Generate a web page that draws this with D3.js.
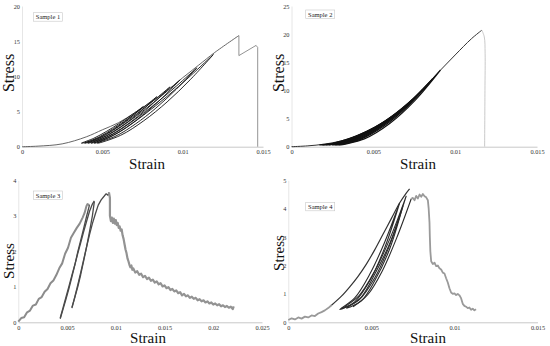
<!DOCTYPE html>
<html>
<head>
<meta charset="utf-8">
<script src="https://cdn.jsdelivr.net/npm/d3@7"></script>
<style>
  body { margin: 0; background: #fff; }
  svg { display: block; }
  text { font-family: "Liberation Serif", "Times New Roman", serif; }
</style>
</head>
<body>
<svg id="chart" width="550" height="346"></svg>
<script>
// ---- tick labels ----
const xTicksA = [0, 0.005, 0.01, 0.015];
const xTicksB = [0, 0.005, 0.01, 0.015, 0.02, 0.025];
const yTicks1 = [0, 5, 10, 15, 20];
const yTicks2 = [0, 5, 10, 15, 20, 25];
const yTicks3 = [0, 1, 2, 3, 4];
const yTicks4 = [0, 1, 2, 3, 4, 5];

// ---- sample 1 : [strain, stress] ----
const s1Envelope = [[0,0],[0.001,0.08],[0.0025,0.4],[0.004,1.4],[0.005,2.4],[0.006,3.4],[0.007,4.8],[0.008,6.3],[0.009,7.9],[0.01,9.8],[0.011,11.6],[0.012,13.4],[0.0135,15.8]];
const s1Drop = [[0.0135,15.8],[0.0135,12.95],[0.01457,14.4],[0.01467,14.1],[0.01467,0]];
const s1Loops = [
  [[0.00755,5.7],[0.00678,4.22],[0.00601,2.92],[0.00524,1.82],[0.00447,0.96],[0.0037,0.5],[0.00447,1.2],[0.00524,2.15],[0.00601,3.25],[0.00678,4.44],[0.00755,5.7]],
  [[0.00839,7.1],[0.0075,5.23],[0.0066,3.57],[0.0057,2.17],[0.0048,1.09],[0.0039,0.5],[0.0048,1.38],[0.0057,2.6],[0.0066,3.98],[0.0075,5.5],[0.00839,7.1]],
  [[0.00921,8.5],[0.00819,6.23],[0.00717,4.22],[0.00614,2.52],[0.00512,1.21],[0.0041,0.5],[0.00512,1.57],[0.00614,3.04],[0.00717,4.72],[0.00819,6.56],[0.00921,8.5]],
  [[0.00984,9.5],[0.00873,6.94],[0.00762,4.69],[0.00652,2.78],[0.00541,1.3],[0.0043,0.5],[0.00541,1.71],[0.00652,3.36],[0.00762,5.25],[0.00873,7.31],[0.00984,9.5]],
  [[0.01088,11.2],[0.0096,8.16],[0.00833,5.48],[0.00705,3.21],[0.00578,1.45],[0.0045,0.5],[0.00578,1.93],[0.00705,3.9],[0.00833,6.15],[0.0096,8.6],[0.01088,11.2]],
  [[0.01191,13.1],[0.01047,9.52],[0.00903,6.36],[0.00758,3.69],[0.00614,1.62],[0.0047,0.5],[0.00614,2.19],[0.00758,4.51],[0.00903,7.15],[0.01047,10.04],[0.01191,13.1]]
];

// ---- sample 2 ----
const s2Envelope = [[0,0],[0.001,0.15],[0.002,0.45],[0.003,1.0],[0.004,1.9],[0.005,3.2],[0.006,5.0],[0.007,7.3],[0.008,10.2],[0.009,13.3],[0.01,16.3],[0.011,19.2],[0.01163,20.7]];
const s2Drop = [[0.01163,20.7],[0.01178,19.5],[0.01183,16.6],[0.01182,10],[0.0118,0]];
const s2Loops = [
  [[0.0055,4.0],[0.00455,2.51],[0.0036,1.36],[0.00265,0.6],[0.0017,0.3],[0.00265,0.7],[0.0036,1.52],[0.00455,2.63],[0.0055,4.0]],
  [[0.0062,5.4],[0.00513,3.34],[0.00405,1.76],[0.00298,0.72],[0.0019,0.3],[0.00298,0.86],[0.00405,1.98],[0.00513,3.52],[0.0062,5.4]],
  [[0.0068,6.8],[0.00563,4.17],[0.00445,2.17],[0.00328,0.83],[0.0021,0.3],[0.00328,1.01],[0.00445,2.45],[0.00563,4.4],[0.0068,6.8]],
  [[0.0074,8.4],[0.00613,5.13],[0.00485,2.62],[0.00358,0.96],[0.0023,0.3],[0.00358,1.18],[0.00485,2.97],[0.00613,5.41],[0.0074,8.4]],
  [[0.008,10.1],[0.00663,6.14],[0.00525,3.11],[0.00388,1.1],[0.0025,0.3],[0.00388,1.37],[0.00525,3.53],[0.00663,6.48],[0.008,10.1]],
  [[0.0086,12.0],[0.00713,7.27],[0.00565,3.66],[0.00418,1.26],[0.0027,0.3],[0.00418,1.58],[0.00565,4.16],[0.00713,7.68],[0.0086,12.0]],
  [[0.0091,13.6],[0.00755,8.23],[0.006,4.12],[0.00445,1.39],[0.0029,0.3],[0.00445,1.75],[0.006,4.69],[0.00755,8.69],[0.0091,13.6]]
];

// ---- sample 3 ----
const s3Load = [[0,0.02],[0.0003,0.12],[0.0006,0.14],[0.0009,0.28],[0.0012,0.33],[0.0015,0.47],[0.0018,0.5],[0.0021,0.66],[0.0024,0.71],[0.0027,0.86],[0.003,0.94],[0.0033,1.1],[0.0036,1.18],[0.0039,1.33],[0.0042,1.52],[0.0045,1.66],[0.0048,1.93],[0.0051,2.1],[0.0054,2.38],[0.0057,2.52],[0.006,2.66],[0.0063,2.78],[0.0066,2.95],[0.0068,3.08],[0.007,3.28],[0.0071,3.33],[0.0073,3.3]];
const s3Loops = [
  [[0.0073,3.3],[0.007,2.98],[0.0067,2.64],[0.0064,2.31],[0.0061,1.98],[0.0058,1.62],[0.0055,1.28],[0.0052,0.96],[0.0049,0.66],[0.0046,0.38],[0.0043,0.1]],
  [[0.0043,0.12],[0.0046,0.42],[0.0049,0.72],[0.0052,1.02],[0.0055,1.33],[0.0058,1.62],[0.0061,1.94],[0.0064,2.24],[0.0067,2.55],[0.007,2.84],[0.0073,3.12],[0.0076,3.33],[0.0078,3.42]],
  [[0.0078,3.4],[0.0076,3.0],[0.0073,2.55],[0.007,2.12],[0.0067,1.72],[0.0064,1.34],[0.0061,1.0],[0.0058,0.7],[0.0055,0.42]],
  [[0.0055,0.4],[0.0058,0.72],[0.0061,1.05],[0.0064,1.4],[0.0067,1.76],[0.007,2.12],[0.0073,2.46],[0.0076,2.78],[0.0079,3.05],[0.0082,3.3],[0.0085,3.45],[0.0088,3.55],[0.009,3.62],[0.0092,3.58],[0.0093,3.66]]
];
const s3Post = [[0.0093,3.66],[0.0094,3.5],[0.0094,3.0],[0.0095,2.85],[0.0096,2.95],[0.0097,2.8],[0.0098,2.92],[0.0099,2.78],[0.01,2.88],[0.0101,2.74],[0.0102,2.8],[0.0103,2.66],[0.0104,2.7],[0.0105,2.58],[0.0106,2.62],[0.0107,2.45],[0.0108,2.35],[0.0109,2.2],[0.011,2.05],[0.0111,1.95],[0.0112,1.8],[0.0113,1.72],[0.0114,1.62],[0.0115,1.55],[0.0116,1.6],[0.0117,1.48],[0.0118,1.52],[0.012,1.4],[0.0122,1.44],[0.0124,1.34],[0.0126,1.37],[0.0128,1.27],[0.013,1.31],[0.0132,1.22],[0.0134,1.26],[0.0136,1.17],[0.0138,1.2],[0.014,1.12],[0.0142,1.15],[0.0144,1.07],[0.0146,1.1],[0.0148,1.01],[0.015,1.04],[0.0152,0.96],[0.0154,0.99],[0.0156,0.91],[0.0158,0.94],[0.016,0.87],[0.0162,0.9],[0.0164,0.82],[0.0166,0.85],[0.0168,0.76],[0.017,0.8],[0.0172,0.73],[0.0174,0.76],[0.0176,0.69],[0.0178,0.72],[0.018,0.66],[0.0182,0.69],[0.0184,0.62],[0.0186,0.65],[0.0188,0.59],[0.019,0.62],[0.0192,0.56],[0.0194,0.59],[0.0196,0.53],[0.0198,0.56],[0.02,0.5],[0.0202,0.53],[0.0204,0.48],[0.0206,0.51],[0.0208,0.45],[0.021,0.48],[0.0212,0.43],[0.0214,0.46],[0.0216,0.41],[0.0218,0.44],[0.022,0.37],[0.0221,0.45]];

// ---- sample 4 ----
const s4Toe = [[0,0.08],[0.0002,0.14],[0.0004,0.1],[0.0006,0.17],[0.0008,0.13],[0.001,0.2],[0.0012,0.17],[0.0014,0.24],[0.0016,0.22],[0.0018,0.31],[0.002,0.36],[0.0022,0.42],[0.0024,0.5],[0.0026,0.6]];
const s4Load = [[0.0026,0.6],[0.0032,0.92],[0.0037,1.25],[0.0042,1.62],[0.0047,2.05],[0.0052,2.55],[0.0057,3.1],[0.0062,3.65],[0.0067,4.2],[0.0071,4.55],[0.0073,4.7]];
const s4Loops = [
  [[0.0067,4.2],[0.0058,2.62],[0.0049,1.46],[0.004,0.72],[0.0031,0.45],[0.004,0.86],[0.0049,1.69],[0.0058,2.82],[0.0067,4.2]],
  [[0.0071,4.45],[0.00615,2.79],[0.0052,1.56],[0.00425,0.78],[0.0033,0.5],[0.00425,0.93],[0.0052,1.8],[0.00615,2.99],[0.0071,4.45]],
  [[0.0069,4.1],[0.0061,2.58],[0.0052,1.46],[0.0044,0.76],[0.0035,0.5],[0.0044,0.89],[0.0052,1.69],[0.0061,2.77],[0.0069,4.1]],
  [[0.0039,0.55],[0.00478,0.97],[0.00565,1.8],[0.00653,2.98],[0.0074,4.35]]
];
const s4Post = [[0.0074,4.35],[0.0075,4.38],[0.0076,4.3],[0.0077,4.45],[0.0078,4.36],[0.0079,4.5],[0.008,4.42],[0.0081,4.52],[0.0082,4.44],[0.0083,4.4],[0.0084,4.3],[0.00845,4.0],[0.0085,3.5],[0.00852,3.0],[0.00855,2.5],[0.0086,2.15],[0.0087,2.05],[0.0088,2.1],[0.0089,1.98],[0.009,2.0],[0.0091,1.9],[0.0092,1.86],[0.0093,1.75],[0.0094,1.72],[0.0095,1.55],[0.0096,1.4],[0.0097,1.2],[0.0098,1.05],[0.0099,1.0],[0.01,1.02],[0.0101,0.96],[0.0102,1.0],[0.0103,0.95],[0.0104,0.85],[0.0105,0.65],[0.0106,0.58],[0.0107,0.55],[0.0108,0.5],[0.0109,0.52],[0.011,0.44],[0.0111,0.48],[0.0112,0.42],[0.0113,0.46]];

const svg = d3.select('#chart');

function panel(o) {
  const x = d3.scaleLinear().domain(o.xDomain).range(o.xRange);
  const y = d3.scaleLinear().domain(o.yDomain).range(o.yRange);
  const g = svg.append('g');

  const ax = g.append('g')
    .attr('transform', `translate(0,${o.yRange[0]})`)
    .call(d3.axisBottom(x).tickValues(o.xTicks).tickSize(0).tickPadding(3)
      .tickFormat(d => String(d)));
  ax.attr('font-family', 'Liberation Serif');
  ax.select('.domain').attr('stroke', '#c8c8c8');
  ax.selectAll('text').attr('font-size', 6.3).attr('fill', '#333');

  const ay = g.append('g')
    .attr('transform', `translate(${o.xRange[0]},0)`)
    .call(d3.axisLeft(y).tickValues(o.yTicks).tickSize(0).tickPadding(2)
      .tickFormat(d => String(d)));
  ay.attr('font-family', 'Liberation Serif');
  ay.select('.domain').attr('stroke', '#e6e6e6');
  ay.selectAll('text').attr('font-size', 6.3).attr('fill', '#333');

  const line = d3.line().x(d => x(d[0])).y(d => y(d[1]));
  const smooth = d3.line().x(d => x(d[0])).y(d => y(d[1])).curve(d3.curveCatmullRom);

  o.series.forEach(s => {
    const gen = s.smooth ? smooth : line;
    g.append('path').datum(s.data).attr('d', gen).attr('fill', 'none')
      .attr('stroke', s.color).attr('stroke-width', s.width)
      .attr('stroke-linejoin', 'round');
  });

  // sample label box
  const lb = g.append('g').attr('transform', `translate(${o.label.x},${o.label.y})`);
  lb.append('rect').attr('width', 29).attr('height', 8.5)
    .attr('fill', '#fff').attr('stroke', '#c8c8c8').attr('stroke-width', 0.6);
  lb.append('text').attr('x', 14.5).attr('y', 6.6).attr('text-anchor', 'middle')
    .attr('font-size', 6.5).attr('fill', '#222').text(o.title);

  g.append('text')
    .attr('transform', `translate(${o.yLabel.x},${o.yLabel.y}) rotate(-90)`)
    .attr('text-anchor', 'middle').attr('font-size', o.yLabel.size)
    .attr('fill', '#111').text('Stress');
  g.append('text')
    .attr('x', o.xLabel.x).attr('y', o.xLabel.y)
    .attr('text-anchor', 'middle').attr('font-size', 15)
    .attr('fill', '#111').text('Strain');
}

panel({
  title: 'Sample 1',
  xDomain: [0, 0.015], xRange: [22, 263], yDomain: [0, 20], yRange: [146.7, 6],
  xTicks: xTicksA, yTicks: yTicks1,
  label: { x: 33.5, y: 12.7 },
  yLabel: { x: 14, y: 73, size: 16 }, xLabel: { x: 147, y: 169 },
  series: [
    { data: s1Envelope, color: '#555', width: 0.9, smooth: true },
    ...s1Loops.map(d => ({ data: d, color: '#111', width: 0.9, smooth: true })),
    { data: s1Drop, color: '#777', width: 0.8 },
  ]
});

panel({
  title: 'Sample 2',
  xDomain: [0, 0.015], xRange: [291.5, 537], yDomain: [0, 25], yRange: [146.7, 6],
  xTicks: xTicksA, yTicks: yTicks2,
  label: { x: 305.7, y: 10 },
  yLabel: { x: 284, y: 73, size: 16 }, xLabel: { x: 418, y: 169 },
  series: [
    { data: s2Envelope, color: '#333', width: 1, smooth: true },
    ...s2Loops.map(d => ({ data: d, color: '#111', width: 1.2, smooth: true })),
    { data: s2Drop, color: '#bbb', width: 0.8, smooth: true },
  ]
});

panel({
  title: 'Sample 3',
  xDomain: [0, 0.025], xRange: [18.3, 262], yDomain: [0, 4], yRange: [322.3, 180.3],
  xTicks: xTicksB, yTicks: yTicks3,
  label: { x: 33.5, y: 191 },
  yLabel: { x: 14, y: 261, size: 15 }, xLabel: { x: 148, y: 343 },
  series: [
    { data: s3Load, color: '#8c8c8c', width: 2 },
    ...s3Loops.map(d => ({ data: d, color: '#4a4a4a', width: 1.3 })),
    { data: s3Post, color: '#939393', width: 2.2 },
  ]
});

panel({
  title: 'Sample 4',
  xDomain: [0, 0.015], xRange: [288.3, 537.5], yDomain: [0, 5], yRange: [322.3, 180.3],
  xTicks: xTicksA, yTicks: yTicks4,
  label: { x: 305.7, y: 202.3 },
  yLabel: { x: 284, y: 253, size: 15 }, xLabel: { x: 428, y: 343 },
  series: [
    { data: s4Toe, color: '#999', width: 1.8 },
    { data: s4Load, color: '#333', width: 1.2, smooth: true },
    ...s4Loops.map(d => ({ data: d, color: '#2a2a2a', width: 1.1, smooth: true })),
    { data: s4Post, color: '#9a9a9a', width: 1.8 },
  ]
});
</script>
</body>
</html>
